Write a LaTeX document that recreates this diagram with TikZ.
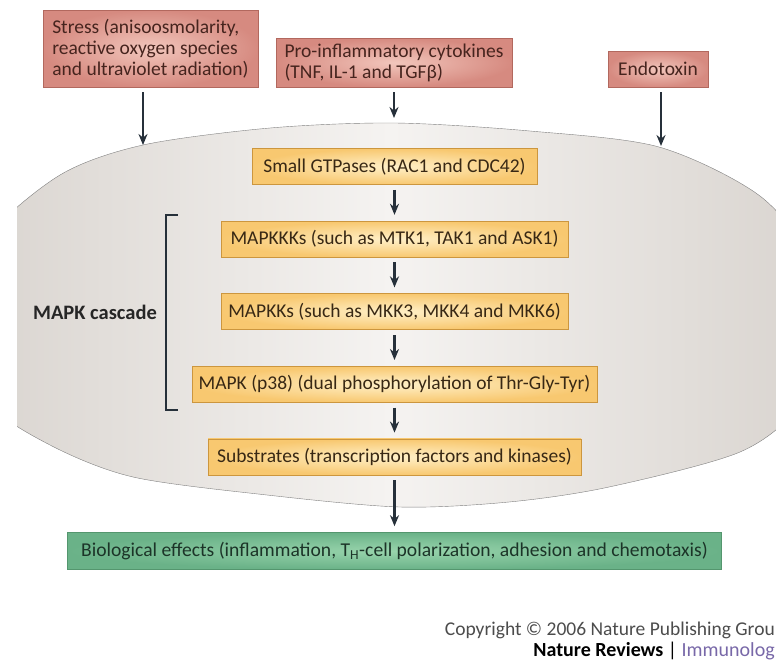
\documentclass[tikz,border=0pt]{standalone}
\usepackage{fontspec}
\setmainfont{Carlito}
\usetikzlibrary{positioning, arrows.meta}
\definecolor{inkdark}{RGB}{38,48,58}
\definecolor{causeedge}{RGB}{178,104,94}
\definecolor{causein}{RGB}{242,198,188}
\definecolor{causeout}{RGB}{214,138,128}
\definecolor{causetext}{RGB}{70,36,30}
\definecolor{kinedge}{RGB}{204,150,62}
\definecolor{kinin}{RGB}{255,240,200}
\definecolor{kinout}{RGB}{248,200,112}
\definecolor{kintext}{RGB}{56,40,20}
\definecolor{effedge}{RGB}{84,150,110}
\definecolor{effin}{RGB}{152,212,172}
\definecolor{effout}{RGB}{106,178,136}
\definecolor{efftext}{RGB}{28,52,40}
\definecolor{cellgray}{RGB}{216,211,206}
\definecolor{celllight}{RGB}{245,243,241}
\definecolor{celledge}{RGB}{128,128,128}
\definecolor{journal}{RGB}{120,104,168}
\tikzset{
  cause/.style={
    draw=causeedge, semithick, inner color=causein, outer color=causeout,
    text=causetext, font=\fontsize{19.5}{21}\selectfont, align=left, inner sep=0pt
  },
  kinase/.style={
    draw=kinedge, semithick, inner color=kinin, outer color=kinout,
    text=kintext, font=\fontsize{19.5}{21}\selectfont, minimum height=36pt, inner sep=0pt
  },
  effect/.style={
    draw=effedge, semithick, inner color=effin, outer color=effout,
    text=efftext, font=\fontsize{19.6}{21}\selectfont, minimum height=37pt, inner sep=0pt
  },
  every edge/.style={draw=inkdark, line width=2.1pt, -{Stealth[length=11pt,width=9pt]},
    shorten <=5pt, shorten >=6pt},
  cell/.style={draw=celledge, thin, left color=cellgray, right color=cellgray, middle color=celllight},
}

\begin{document}
\begin{tikzpicture}[x=1pt, y=-1pt, node distance=36pt]
  \useasboundingbox (0,0) rectangle (776,662);

  % cell
  \begin{scope}
    \clip (17,0) rectangle (800,662);
    \path[cell] plot[smooth cycle] coordinates {
      (-45,320) (-15,240) (60,175) (143,145) (270,128) (395,123) (530,131)
      (659,147) (760,196) (815,265) (825,335) (800,405) (740,452) (609,487)
      (509,502) (400,507) (267,495) (133,477) (50,445) (-15,400)};
  \end{scope}
  \coordinate (stressin) at (143,145);
  \coordinate (proin) at (394,118);
  \coordinate (endoin) at (661,146);

  % stimuli
  \node[cause, minimum width=215pt, minimum height=77pt] (stress) at (150.5,48.5)
    {Stress (anisoosmolarity,\\reactive oxygen species\\and ultraviolet radiation)};
  \node[cause, minimum width=236pt, minimum height=49pt] (pro) at (394,62.5)
    {Pro-inflammatory cytokines\\(TNF, IL-1 and TGFβ)};
  \node[cause, minimum width=100pt, minimum height=36pt] (endo) at (658,69) {Endotoxin};

  % cascade
  \node[kinase, minimum width=285pt] (gtp) at (394.5,166.5) {Small GTPases (RAC1 and CDC42)};
  \node[kinase, minimum width=347pt, below=of gtp] (kkk) {MAPKKKs (such as MTK1, TAK1 and ASK1)};
  \node[kinase, minimum width=347pt, below=of kkk] (kk) {MAPKKs (such as MKK3, MKK4 and MKK6)};
  \node[kinase, minimum width=405pt, below=of kk] (mapk) {MAPK (p38) (dual phosphorylation of Thr-Gly-Tyr)};
  \node[kinase, minimum width=373pt, below=of mapk] (subs) {Substrates (transcription factors and kinases)};
  \node[effect, minimum width=654pt, below=57pt of subs] (bio)
    {Biological effects (inflammation, T\textsubscript{H}-cell polarization, adhesion and chemotaxis)};

  \draw[inkdark, line width=2pt] (178,215) -- (166,215) -- (166,410) -- (178,410);
  \node[font=\fontsize{20.5}{22}\selectfont\bfseries, text=black!85] (casc) at (95,312) {MAPK cascade};

  \path (stressin |- stress.south) edge[shorten >=0pt] (stressin)
        (pro) edge[shorten >=0pt] (proin)
        (endoin |- endo.south) edge[shorten >=0pt] (endoin)
        (gtp) edge (kkk)
        (kkk) edge (kk)
        (kk) edge (mapk)
        (mapk) edge (subs)
        (subs) edge (bio);

  \node[anchor=east, inner sep=0pt, text=black!70, font=\fontsize{19.5}{21}\selectfont] (copy) at (775,630)
    {Copyright \textcopyright{} 2006 Nature Publishing Grou};
  \node[anchor=east, inner sep=0pt, font=\fontsize{20}{22}\selectfont] (jour) at (775,651)
    {\textbf{Nature Reviews} | \textcolor{journal}{Immunolog}};
\end{tikzpicture}
\end{document}
